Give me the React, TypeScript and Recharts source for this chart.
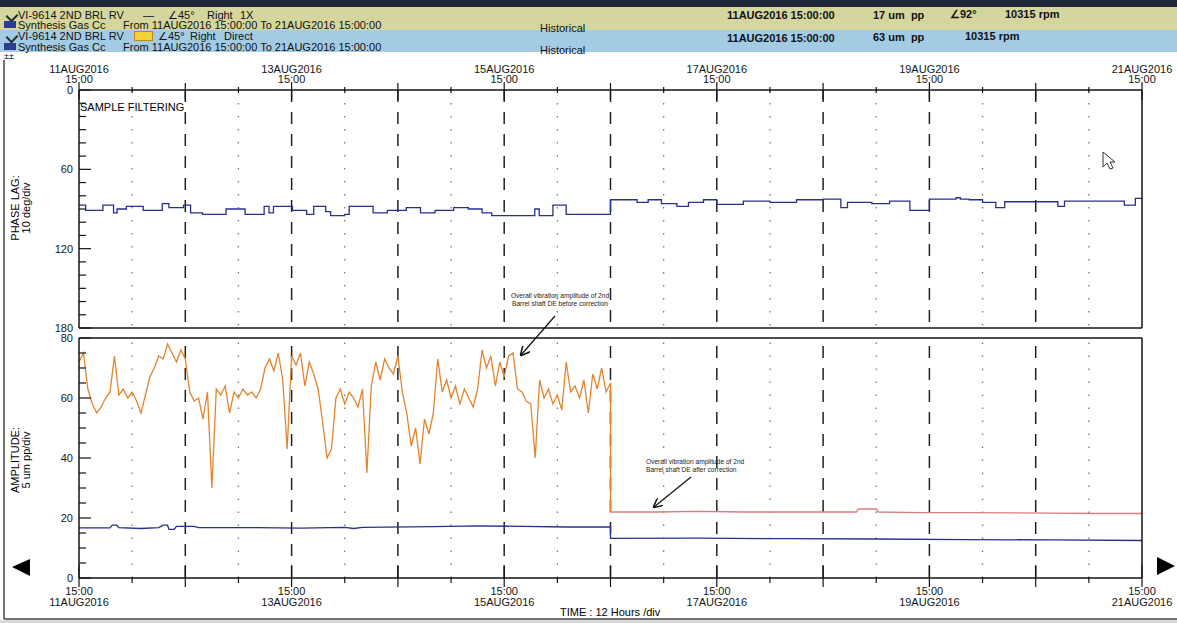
import React from 'react';
import { LineChart, Line, XAxis, YAxis, ReferenceLine } from 'recharts';

const FONT = '"Liberation Sans", Arial, sans-serif';

// time axis, hours from 11AUG2016 15:00
const timeTicks = [0, 12, 24, 36, 48, 60, 72, 84, 96, 108, 120, 132, 144, 156, 168, 180, 192, 204, 216, 228, 240];
const dateLabels = ['11AUG2016', '13AUG2016', '15AUG2016', '17AUG2016', '19AUG2016', '21AUG2016'];
const majorGrid = [24, 48, 72, 96, 120, 144, 168, 192, 216];
const minorGrid = [12, 36, 60, 84, 108, 132, 156, 180, 204, 228];

const phaseTicks = [0, 10, 20, 30, 40, 50, 60, 70, 80, 90, 100, 110, 120, 130, 140, 150, 160, 170, 180];
const ampTicks = [0, 5, 10, 15, 20, 25, 30, 35, 40, 45, 50, 55, 60, 65, 70, 75, 80];

// phase lag 1X (deg), step changes
const phaseHours = [0, 1.5, 5.4, 7.8, 8.6, 10.7, 14.5, 18.8, 20.3, 23.6, 25.2, 27.9, 33.2, 37.5, 41.8, 42.9, 43.9, 48.2, 51.4, 53, 55.7, 56.8, 60, 61, 66.4, 69.6, 73.9, 77.1, 80.4, 84.6, 87.9, 91, 93.2, 102.9, 103.9, 107, 110,
  120, 126, 128.5, 131.5, 135, 137.6, 141, 144, 150, 156, 162, 168, 172, 173.5, 179, 183, 187.6, 192, 198, 199, 201, 204, 207, 209, 216, 221, 222.5, 236, 238.5, 240];
const phaseDeg = [87, 91, 87, 93, 90, 88, 91, 86, 89, 87, 93, 94, 90, 94, 88, 93, 88, 91, 94, 88, 92, 95, 94, 88, 93, 91, 89, 93, 91, 89, 90, 93, 95, 90, 95, 87, 94,
  83, 85, 83, 86, 88, 85, 83, 86.5, 84, 85, 83, 82.5, 89, 85, 86, 84, 91, 82.5, 81.5, 82.5, 83, 85, 89, 84.5, 84.5, 88, 84, 87, 82, 82];

// 1X amplitude (um pp)
const amp1xHours = [0, 7, 7.5, 8.5, 9, 14, 18, 19, 20, 20.3, 21.5, 22, 26, 27, 40, 50, 60, 62, 64, 80, 90, 100, 110, 120, 120, 140, 160, 180, 200, 220, 240];
const amp1x = [16.7, 16.7, 17.6, 17.6, 16.8, 16.5, 16.8, 17.6, 17.6, 16.2, 16.2, 17.2, 17.2, 16.8, 16.8, 16.6, 16.9, 16.5, 16.9, 17.1, 17.4, 17.2, 17.0, 17.0, 13.2, 13.3, 13.1, 13.0, 12.8, 12.7, 12.5];

// direct amplitude before correction, hourly 0..120
const directBefore = [72, 75, 63, 58, 55, 57, 60, 62, 74, 61,
  63, 60, 62, 59, 55, 61, 67, 70, 74, 73,
  78, 75, 72, 76, 73, 62, 59, 60, 53, 62,
  30, 63, 61, 64, 55, 62, 60, 63, 61, 62,
  60, 63, 70, 73, 69, 75, 66, 43, 74, 71,
  75, 64, 72, 68, 63, 52, 40, 43, 60, 63,
  58, 62, 60, 57, 63, 35, 64, 72, 66, 73,
  70, 68, 74, 62, 55, 44, 50, 38, 53, 48,
  55, 73, 62, 66, 60, 64, 58, 63, 60, 57,
  63, 76, 70, 74, 64, 72, 67, 74, 75, 63,
  62, 59, 58, 40, 66, 60, 63, 58, 61, 56,
  72, 62, 64, 60, 66, 55, 68, 63, 70, 62,
  65];
// direct amplitude after correction
const directAfterHours = [120, 130, 140, 150, 160, 170, 175.5, 176, 180, 180.5, 190, 200, 210, 220, 230, 240];
const directAfter = [22, 22, 22.2, 22, 22, 22, 22, 23, 23, 22, 21.8, 21.8, 21.7, 21.6, 21.5, 21.5];

const phaseData = phaseHours.map((h, i) => ({ h, v: phaseDeg[i] }));
const amp1xData = amp1xHours.map((h, i) => ({ h, v: amp1x[i] }));
const directData = [
  ...directBefore.map((v, h) => ({ h, v })),
  ...directAfterHours.map((h, i) => ({ h, v: directAfter[i] })),
];

const INK = '#151515';
const BLUE = '#28308c';

const leftTick = (labelStep: number) => (props: any) => {
  const { x, y, payload } = props;
  const big = payload.value % labelStep === 0;
  return (
    <g>
      <line x1={x} x2={x + (big ? 12 : 7)} y1={y} y2={y} stroke={INK} strokeWidth={1.2} />
      {big && (
        <text x={x - 6} y={y + 4} textAnchor="end" fontSize={11} fontFamily={FONT} fill={INK}>
          {payload.value}
        </text>
      )}
    </g>
  );
};

const rightTick = (labelStep: number) => (props: any) => {
  const { x, y, payload } = props;
  const big = payload.value % labelStep === 0;
  return <line x1={x} x2={x - (big ? 12 : 7)} y1={y} y2={y} stroke={INK} strokeWidth={1.2} />;
};

const topTimeTick = (props: any) => {
  const { x, y, payload } = props;
  const h = payload.value;
  const day = h % 24 === 0;
  const lab = h % 48 === 0;
  return (
    <g>
      <line x1={x} x2={x} y1={y - (day ? 7 : 3)} y2={y + (day ? 10 : 3)} stroke={INK} strokeWidth={1.2} />
      {lab && (
        <text textAnchor="middle" fontSize={11} fontFamily={FONT} fill={INK}>
          <tspan x={x} y={y - 17}>{dateLabels[h / 48]}</tspan>
          <tspan x={x} y={y - 7}>15:00</tspan>
        </text>
      )}
    </g>
  );
};

const bottomTimeTick = (props: any) => {
  const { x, y, payload } = props;
  const h = payload.value;
  const day = h % 24 === 0;
  const lab = h % 48 === 0;
  return (
    <g>
      <line x1={x} x2={x} y1={y - (day ? 13 : 1)} y2={y + (day ? 9 : 5)} stroke={INK} strokeWidth={1.2} />
      {lab && (
        <text textAnchor="middle" fontSize={11} fontFamily={FONT} fill={INK}>
          <tspan x={x} y={y + 17}>15:00</tspan>
          <tspan x={x} y={y + 28}>{dateLabels[h / 48]}</tspan>
        </text>
      )}
    </g>
  );
};

const gridLines = () => [
  ...majorGrid.map((h) => (
    <ReferenceLine key={'M' + h} x={h} yAxisId="l" stroke="#222" strokeWidth={1.5} strokeDasharray="12 10" />
  )),
  ...minorGrid.map((h) => (
    <ReferenceLine key={'m' + h} x={h} yAxisId="l" stroke="#777" strokeWidth={1.3} strokeDasharray="1.5 11.5" />
  )),
];

const T = ({ x, y, children, bold, size }: any) => (
  <div
    style={{
      position: 'absolute',
      left: x,
      top: y - 6,
      fontSize: size || 11,
      lineHeight: '12px',
      fontWeight: bold ? 700 : 400,
      whiteSpace: 'nowrap',
      color: '#111',
    }}
  >
    {children}
  </div>
);

const App = () => {
  return (
    <div
      style={{
        position: 'absolute',
        left: 0,
        top: 0,
        width: 1177,
        height: 623,
        overflow: 'hidden',
        background: '#fff',
        fontFamily: FONT,
      }}
    >
      {/* header */}
      <div style={{ position: 'absolute', left: 0, top: 0, width: 1177, height: 7, background: '#1e2638' }} />
      <div style={{ position: 'absolute', left: 0, top: 7, width: 1177, height: 23, background: '#d4d69e' }} />
      <div style={{ position: 'absolute', left: 0, top: 30, width: 1177, height: 22, background: '#a3cce4' }} />
      <div style={{ position: 'absolute', left: 5, top: 10, width: 11, height: 9, borderLeft: '3px solid #233', borderBottom: '3px solid #233', transform: 'rotate(-45deg) scale(0.7)' }} />
      <div style={{ position: 'absolute', left: 4, top: 21, width: 12, height: 7, background: '#2c3f8f' }} />
      <div style={{ position: 'absolute', left: 5, top: 31, width: 11, height: 9, borderLeft: '3px solid #233', borderBottom: '3px solid #233', transform: 'rotate(-45deg) scale(0.7)' }} />
      <div style={{ position: 'absolute', left: 4, top: 43, width: 12, height: 7, background: '#2c3f8f' }} />
      <T x={18} y={15}>VI-9614 2ND BRL RV</T>
      <T x={143} y={15}>—</T>
      <T x={168} y={15}>∠45°</T>
      <T x={207} y={15}>Right</T>
      <T x={240} y={15}>1X</T>
      <T x={18} y={25}>Synthesis Gas Cc</T>
      <T x={123} y={25}>From 11AUG2016 15:00:00 To 21AUG2016 15:00:00</T>
      <T x={540} y={28}>Historical</T>
      <T x={18} y={36}>VI-9614 2ND BRL RV</T>
      <div style={{ position: 'absolute', left: 134, top: 31, width: 17, height: 8, background: '#f2d23a', border: '1px solid #c08a10' }} />
      <T x={158} y={36}>∠45°</T>
      <T x={190} y={36}>Right</T>
      <T x={224} y={36}>Direct</T>
      <T x={18} y={47}>Synthesis Gas Cc</T>
      <T x={123} y={47}>From 11AUG2016 15:00:00 To 21AUG2016 15:00:00</T>
      <T x={540} y={50}>Historical</T>
      <T x={727} y={15} bold>11AUG2016 15:00:00</T>
      <T x={873} y={15} bold>17 um&nbsp;&nbsp;pp</T>
      <T x={950} y={14} bold>∠92°</T>
      <T x={1005} y={14} bold>10315 rpm</T>
      <T x={727} y={38} bold>11AUG2016 15:00:00</T>
      <T x={873} y={37} bold>63 um&nbsp;&nbsp;pp</T>
      <T x={965} y={36} bold>10315 rpm</T>
      <T x={4} y={56} size={9}>±±</T>

      {/* phase lag chart */}
      <div style={{ position: 'absolute', left: 0, top: 0 }}>
        <LineChart width={1177} height={338} margin={{ top: 89, right: 34, bottom: 10, left: 39 }}>
          <XAxis
            dataKey="h"
            type="number"
            domain={[0, 240]}
            ticks={timeTicks}
            interval={0}
            orientation="top"
            height={1}
            tickSize={0}
            tickMargin={0}
            tick={topTimeTick}
            axisLine={{ stroke: INK, strokeWidth: 1.5 }}
            tickLine={false}
          />
          <YAxis
            yAxisId="l"
            type="number"
            domain={[0, 180]}
            reversed
            ticks={phaseTicks}
            interval={0}
            width={40}
            tickSize={0}
            tickMargin={0}
            tick={leftTick(60)}
            axisLine={{ stroke: INK, strokeWidth: 1.5 }}
            tickLine={false}
          />
          <YAxis
            yAxisId="r"
            orientation="right"
            type="number"
            domain={[0, 180]}
            reversed
            ticks={phaseTicks}
            interval={0}
            width={1}
            tickSize={0}
            tickMargin={0}
            tick={rightTick(60)}
            axisLine={{ stroke: INK, strokeWidth: 1.5 }}
            tickLine={false}
          />
          {gridLines()}
          <ReferenceLine y={180} yAxisId="l" stroke={INK} strokeWidth={1.5} />
          <Line
            yAxisId="l"
            data={phaseData}
            dataKey="v"
            type="stepAfter"
            stroke={BLUE}
            strokeWidth={1.3}
            dot={false}
            activeDot={false}
            isAnimationActive={false}
          />
        </LineChart>
      </div>

      {/* amplitude chart */}
      <div style={{ position: 'absolute', left: 0, top: 332 }}>
        <LineChart width={1177} height={291} margin={{ top: 6, right: 34, bottom: 44, left: 39 }}>
          <defs>
            <linearGradient id="directGrad" x1="0" y1="0" x2="1" y2="0">
              <stop offset="0.502" stopColor="#e3842c" />
              <stop offset="0.502" stopColor="#dc7b7b" />
            </linearGradient>
          </defs>
          <XAxis
            dataKey="h"
            type="number"
            domain={[0, 240]}
            ticks={timeTicks}
            interval={0}
            height={1}
            tickSize={0}
            tickMargin={0}
            tick={bottomTimeTick}
            axisLine={{ stroke: INK, strokeWidth: 1.5 }}
            tickLine={false}
          />
          <YAxis
            yAxisId="l"
            type="number"
            domain={[0, 80]}
            ticks={ampTicks}
            interval={0}
            width={40}
            tickSize={0}
            tickMargin={0}
            tick={leftTick(20)}
            axisLine={{ stroke: INK, strokeWidth: 1.5 }}
            tickLine={false}
          />
          <YAxis
            yAxisId="r"
            orientation="right"
            type="number"
            domain={[0, 80]}
            ticks={ampTicks}
            interval={0}
            width={1}
            tickSize={0}
            tickMargin={0}
            tick={rightTick(20)}
            axisLine={{ stroke: INK, strokeWidth: 1.5 }}
            tickLine={false}
          />
          {gridLines()}
          <ReferenceLine y={80} yAxisId="l" stroke={INK} strokeWidth={1.5} />
          <Line
            yAxisId="l"
            data={amp1xData}
            dataKey="v"
            type="linear"
            stroke={BLUE}
            strokeWidth={1.3}
            dot={false}
            activeDot={false}
            isAnimationActive={false}
          />
          <Line
            yAxisId="l"
            data={directData}
            dataKey="v"
            type="linear"
            stroke="url(#directGrad)"
            strokeWidth={1.3}
            dot={false}
            activeDot={false}
            isAnimationActive={false}
          />
        </LineChart>
      </div>

      {/* axis titles and notes */}
      <div style={{ position: 'absolute', left: 9, top: 208, transform: 'translate(-50%, -50%) rotate(-90deg)', transformOrigin: 'center', fontSize: 11, lineHeight: '11px', textAlign: 'center', whiteSpace: 'nowrap', marginLeft: 12 }}>
        PHASE LAG:<br />10 deg/div
      </div>
      <div style={{ position: 'absolute', left: 9, top: 460, transform: 'translate(-50%, -50%) rotate(-90deg)', transformOrigin: 'center', fontSize: 11, lineHeight: '11px', textAlign: 'center', whiteSpace: 'nowrap', marginLeft: 12 }}>
        AMPLITUDE:<br />5 um pp/div
      </div>
      <div style={{ position: 'absolute', left: 80, top: 101, fontSize: 11, lineHeight: '12px', whiteSpace: 'nowrap' }}>SAMPLE FILTERING</div>
      <div style={{ position: 'absolute', left: 560, top: 606, fontSize: 11, lineHeight: '12px', whiteSpace: 'nowrap' }}>
        TIME : 12 Hours /div
      </div>

      <svg width={1177} height={623} style={{ position: 'absolute', left: 0, top: 0, pointerEvents: 'none' }}>
        <defs>
          <marker id="ah" markerWidth="8" markerHeight="8" refX="7" refY="4" orient="auto">
            <path d="M0,0 L8,4 L0,8" fill="none" stroke="#111" strokeWidth="1.3" />
          </marker>
        </defs>
        <text fontSize={6.6} fontFamily={FONT} fill="#222" textAnchor="middle">
          <tspan x={560} y={298}>Overall vibration amplitude of 2nd</tspan>
          <tspan x={560} y={306}>Barrel shaft DE before correction</tspan>
        </text>
        <line x1={555} y1={316} x2={521} y2={355} stroke="#111" strokeWidth={1.2} markerEnd="url(#ah)" />
        <text fontSize={6.6} fontFamily={FONT} fill="#222">
          <tspan x={646} y={464}>Overall vibration amplitude of 2nd</tspan>
          <tspan x={646} y={472}>Barrel shaft DE after correction</tspan>
        </text>
        <line x1={691} y1={477} x2={654} y2={507} stroke="#111" strokeWidth={1.2} markerEnd="url(#ah)" />
        <polygon points="12,567 30,559 30,576" fill="#000" />
        <polygon points="1157,557 1157,575 1175,566" fill="#000" />
        <path d="M1103,152 L1103,167 L1107,163 L1110,169 L1113,168 L1110,162 L1115,162 Z" fill="#fff" stroke="#333" strokeWidth={1} />
        <line x1={4} y1={60} x2={4} y2={619} stroke="#444" strokeWidth={1.5} />
        <line x1={4} y1={619} x2={1177} y2={619} stroke="#444" strokeWidth={1.5} />
        <rect x={0} y={620} width={1177} height={3} fill="#d8d8d8" />
      </svg>
    </div>
  );
};

export default App;
